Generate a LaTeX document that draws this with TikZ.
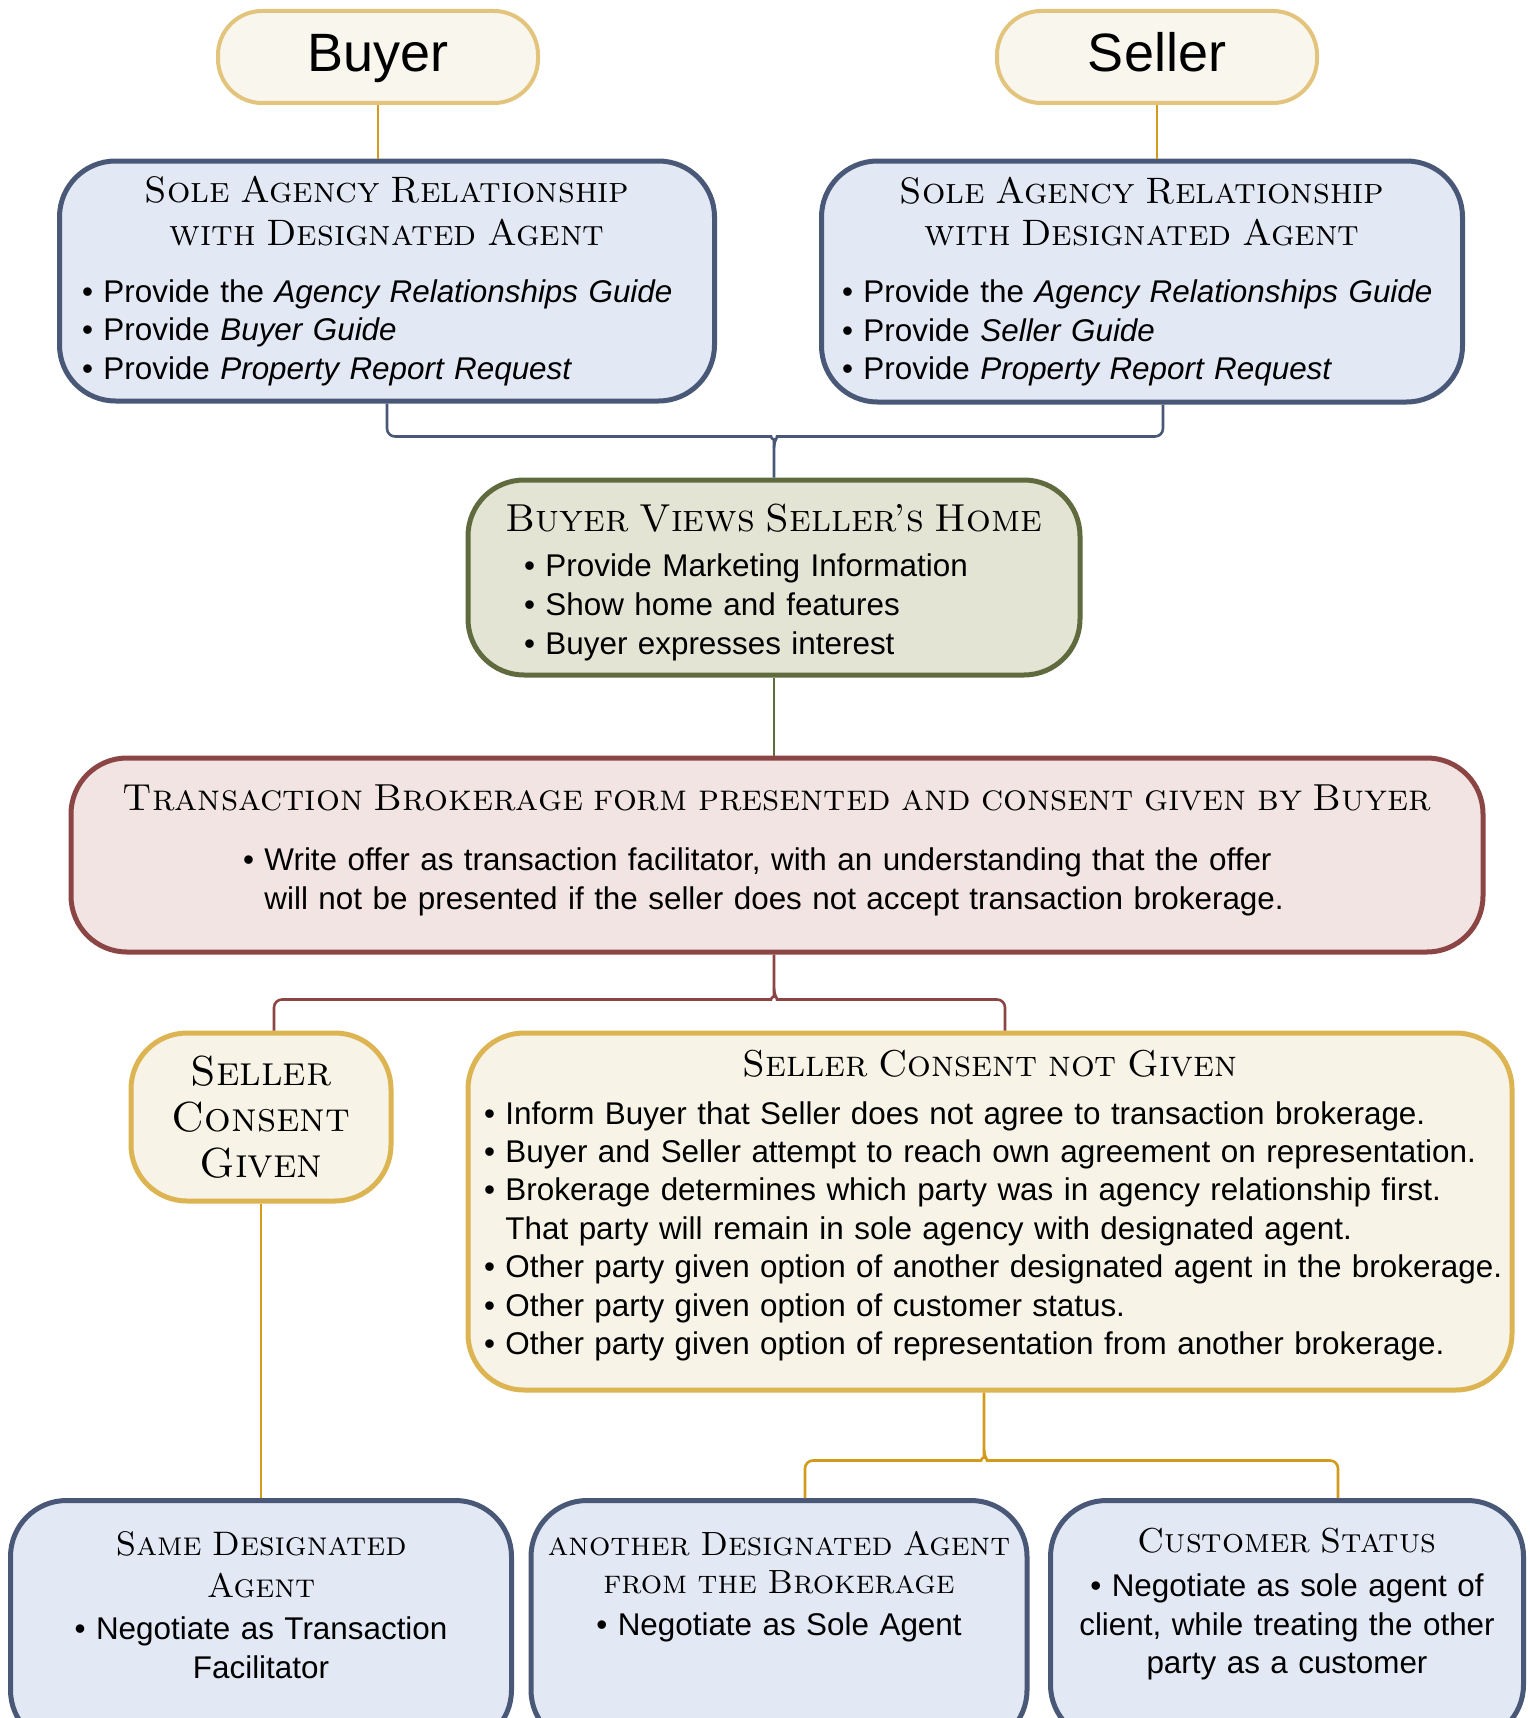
\documentclass[tikz,border=0pt]{standalone}
\usepackage{fontspec}
\setmainfont{Liberation Sans}
\usetikzlibrary{calc}

\definecolor{pillfill}{HTML}{F9F6EE}
\definecolor{pillline}{HTML}{E3C47C}
\definecolor{bluefill}{HTML}{E2E8F4}
\definecolor{blueline}{HTML}{4A5878}
\definecolor{olivefill}{HTML}{E3E4D3}
\definecolor{oliveline}{HTML}{5F6B3F}
\definecolor{redfill}{HTML}{F1E4E2}
\definecolor{redline}{HTML}{8B4545}
\definecolor{goldfill}{HTML}{F7F3E6}
\definecolor{goldline}{HTML}{DCB452}
\definecolor{goldlink}{HTML}{D39B1C}

\newcommand{\heading}[3] % size in pt, line skip in pt, text
{%
	{\centering\fontsize{#1}{#2}\fontfamily{lmr}\selectfont\scshape #3\par}%
}

\tikzset{
	box/.style={line width=2.5pt, rounded corners=28pt, inner sep=0pt, font=\fontsize{15.7}{19.3}\selectfont},
	pill/.style={box, draw=pillline, fill=pillfill, line width=2pt, rounded corners=22pt, minimum width=160pt, minimum height=46pt, text height=20pt, text depth=5pt, font=\fontsize{27}{30}\selectfont},
	bluebox/.style={box, draw=blueline, fill=bluefill},
	olivebox/.style={box, draw=oliveline, fill=olivefill},
	redbox/.style={box, draw=redline, fill=redfill},
	goldbox/.style={box, draw=goldline, fill=goldfill},
	lowbox/.style={bluebox, anchor=north, inner ysep=15.4pt, text depth=80pt},
	link/.style={line width=1.3pt, rounded corners=4pt}
}

\begin{document}
\begin{tikzpicture}[x=0.5pt, y=-0.5pt]
	% 1530 x 1718 px, y runs down
	\useasboundingbox (0,0) rectangle (1530,1718);

	% parties
	\node[pill] (buyer) at (378,57) {Buyer};
	\node[pill] (seller) at (1157,57) {Seller};

	% sole agency
	\node[bluebox, minimum width=327.5pt, minimum height=120pt, text width=310pt] (soleL) at (387,281) {%
		\heading{18.4}{21.4}{Sole Agency Relationship\\with Designated Agent}%
		\vspace{9pt}\raggedright\leftskip=2.5pt
		• Provide the \textit{Agency Relationships Guide}\\
		• Provide \textit{Buyer Guide}\\
		• Provide \textit{Property Report Request}\par};
	\node[bluebox, minimum width=320.5pt, minimum height=120.5pt, text width=310pt] (soleR) at (1142,281.5) {%
		\heading{18.4}{21.4}{Sole Agency Relationship\\with Designated Agent}%
		\vspace{9pt}\raggedright\leftskip=5pt
		• Provide the \textit{Agency Relationships Guide}\\
		• Provide \textit{Seller Guide}\\
		• Provide \textit{Property Report Request}\par};

	% viewing
	\node[olivebox, minimum width=306pt, minimum height=97.5pt, text width=290pt, text height=18.5pt] (views) at (774,577.5) {%
		\heading{19.5}{22}{Buyer Views Seller’s Home}%
		\vspace{3.5pt}\raggedright\leftskip=20pt
		• Provide Marketing Information\\
		• Show home and features\\
		• Buyer expresses interest\par};

	% transaction brokerage
	\node[redbox, minimum width=706pt, minimum height=97pt, text width=680pt, text depth=57.5pt] (trans) at (777,855) {%
		\heading{18.8}{22}{Transaction Brokerage form presented and consent given by Buyer}%
		\vspace{10.4pt}\raggedright\leftskip=73pt\baselineskip=19.7pt
		• Write offer as transaction facilitator, with an understanding that the offer\\
		\hphantom{• }will not be presented if the seller does not accept transaction brokerage.\par};

	% seller answer
	\node[goldbox, minimum width=130pt, minimum height=84pt, text width=124pt] (given) at (261,1117) {%
		\heading{21}{23}{Seller\\Consent\\Given}};
	\node[goldbox, minimum width=522pt, minimum height=178.5pt, text width=516pt, text depth=148pt] (notgiven) at (990,1211.5) {%
		\heading{18.7}{20}{Seller Consent not Given}%
		\vspace{4.5pt}\raggedright\leftskip=5pt\baselineskip=19.2pt
		• Inform Buyer that Seller does not agree to transaction brokerage.\\
		• Buyer and Seller attempt to reach own agreement on representation.\\
		• Brokerage determines which party was in agency relationship first.\\
		\hphantom{• }That party will remain in sole agency with designated agent.\\
		• Other party given option of another designated agent in the brokerage.\\
		• Other party given option of customer status.\\
		• Other party given option of representation from another brokerage.\par};

	% outcomes, cut by the page bottom
	\node[lowbox, minimum width=250.5pt, text width=236pt] (same) at (261,1498) {%
		\heading{17}{21}{Same Designated\\Agent}%
		\vspace{2pt}\centering
		• Negotiate as Transaction\\Facilitator\par};
	\node[lowbox, minimum width=248pt, text width=236pt] (another) at (779,1498) {%
		\heading{16.8}{19}{another Designated Agent\\from the Brokerage}%
		\vspace{2pt}\centering
		• Negotiate as Sole Agent\par};
	\node[lowbox, minimum width=236.5pt, text width=226pt, inner ysep=14pt] (customer) at (1287,1498) {%
		\heading{17.3}{20}{Customer Status}%
		\vspace{2.5pt}\centering
		• Negotiate as sole agent of\\client, while treating the other\\party as a customer\par};

	% connectors
	\draw[link, draw=goldlink] (buyer.south) -- (buyer.south |- soleL.north);
	\draw[link, draw=goldlink] (seller.south) -- (seller.south |- soleR.north);

	\coordinate (viewsup) at ($(views.north)+(0,-41)$);
	\draw[link, draw=blueline] (soleL.south) |- ($(viewsup)+(-11,0)$) .. controls ($(viewsup)+(-4,0)$) and ($(viewsup)+(0,4)$) .. ($(viewsup)+(0,11)$) -- (views.north);
	\draw[link, draw=blueline] ($(soleR.south)+(21,0)$) |- ($(viewsup)+(11,0)$) .. controls ($(viewsup)+(4,0)$) and ($(viewsup)+(0,4)$) .. ($(viewsup)+(0,11)$);

	\draw[link, draw=oliveline] (views.south) -- (views.south |- trans.north);

	\coordinate (transdown) at ($(trans.south)+(-3,45)$);
	\draw[link, draw=redline] (trans.south -| transdown) -- ($(transdown)+(0,-11)$) .. controls ($(transdown)+(0,-4)$) and ($(transdown)+(-4,0)$) .. ($(transdown)+(-11,0)$) -| ($(given.north)+(13,0)$);
	\draw[link, draw=redline] ($(transdown)+(0,-11)$) .. controls ($(transdown)+(0,-4)$) and ($(transdown)+(4,0)$) .. ($(transdown)+(11,0)$) -| ($(notgiven.north)+(15,0)$);

	\draw[link, draw=goldlink] (given.south) -- (given.south |- same.north);

	\coordinate (ngdown) at ($(notgiven.south)+(-6,68)$);
	\draw[link, draw=goldlink] (notgiven.south -| ngdown) -- ($(ngdown)+(0,-11)$) .. controls ($(ngdown)+(0,-4)$) and ($(ngdown)+(-4,0)$) .. ($(ngdown)+(-11,0)$) -| ($(another.north)+(26,0)$);
	\draw[link, draw=goldlink] ($(ngdown)+(0,-11)$) .. controls ($(ngdown)+(0,-4)$) and ($(ngdown)+(4,0)$) .. ($(ngdown)+(11,0)$) -| ($(customer.north)+(51,0)$);
\end{tikzpicture}
\end{document}
